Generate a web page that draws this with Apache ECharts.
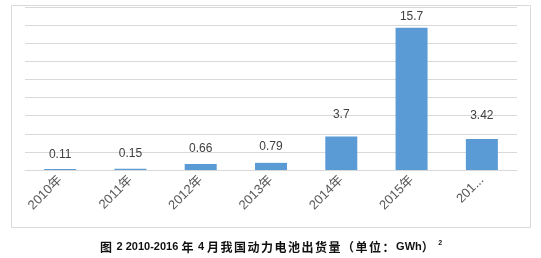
<!DOCTYPE html>
<html><head><meta charset="utf-8">
<script src="https://cdn.jsdelivr.net/npm/echarts@6/dist/echarts.min.js"></script>
<style>html,body{margin:0;padding:0;background:#fff}#c{width:541px;height:258px}</style>
</head><body><div id="c"></div>
<script>
const categories = ['2010年','2011年','2012年','2013年','2014年','2015年','2016年1-4月'];
const tickLabels = ['2010年','2011年','2012年','2013年','2014年','2015年','201...'];
const values = [0.11, 0.15, 0.66, 0.79, 3.7, 15.7, 3.42];
const valueLabels = ['0.11','0.15','0.66','0.79','3.7','15.7','3.42'];
const labelGaps = [8, 9, 9, 10, 16, 5, 17];
const captionText = '图 2 2010-2016 年 4 月我国动力电池出货量（单位：GWh）';
const captionNote = '2';

const captionRich = Array.from(captionText).map(ch => (/[\x00-\x7f]/.test(ch) ? '{a|' : '{c|') + ch + '}').join('') + '{s|' + captionNote + '}';

const chart = echarts.init(document.getElementById('c'), null, {renderer:'canvas'});
chart.setOption({
  animation:false,
  grid:{left:25, right:24, top:7, bottom:88},
  xAxis:{type:'category', data:categories,
    axisLine:{lineStyle:{color:'#D9D9D9'}}, axisTick:{show:false},
    axisLabel:{rotate:45, margin:8, color:'#595959', fontSize:13, fontFamily:'Liberation Sans, Noto Sans CJK SC',
      formatter:(v,i)=>tickLabels[i]}},
  yAxis:{type:'value', min:0, max:18, interval:2, axisLabel:{show:false}, axisLine:{show:false}, axisTick:{show:false},
    splitLine:{lineStyle:{color:'#D9D9D9'}}},
  series:[{type:'bar', barWidth:32,
    data: values.map((v,i)=>({value:v, label:{distance:labelGaps[i]}})),
    itemStyle:{color:'#5B9BD5'},
    label:{show:true, position:'top', color:'#404040', fontSize:12, fontFamily:'Liberation Sans, Noto Sans CJK SC',
      formatter:p=>valueLabels[p.dataIndex]}}],
  graphic:[
    {type:'rect', shape:{x:11.5, y:5.5, width:519, height:222}, style:{fill:null, stroke:'#D9D9D9', lineWidth:1}, z:-1},
    {type:'text', left:100, top:240, style:{
      text:captionRich,
      rich:{c:{fontSize:12, fontWeight:'bold', fill:'#111', fontFamily:'Noto Sans CJK SC', padding:[0,1.5,0,0], height:14},
            a:{fontSize:11, fontWeight:'bold', fill:'#111', fontFamily:'Liberation Sans', height:14},
            s:{fontSize:7, fill:'#111', fontWeight:'bold', fontFamily:'Liberation Sans', verticalAlign:'top', padding:[0,0,6,3]}}}}
  ]
});
</script></body></html>
